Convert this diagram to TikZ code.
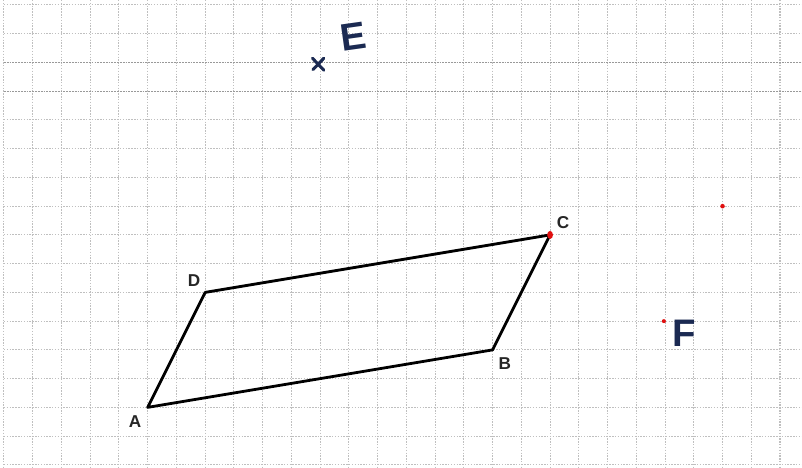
\documentclass[tikz,border=0pt]{standalone}
\usepackage{fontspec}
\setmainfont{Liberation Sans}
\usetikzlibrary{calc}
\definecolor{navy}{HTML}{1B2A52}
\definecolor{ptred}{HTML}{E01010}
\begin{document}
\begin{tikzpicture}[x=0.5cm,y=-0.5cm,
  gridline/.style={gray!50,line width=0.5pt,dash pattern=on 0.7pt off 0.7pt},
  gridthick/.style={gray!80,line width=0.55pt,dash pattern=on 0.9pt off 0.5pt},
  pgon/.style={black,line width=1.4pt,line join=round},
  vlabel/.style={font=\fontsize{8.5}{9}\selectfont\bfseries,text=black!85,inner sep=0pt},
  hand/.style={font=\fontsize{19}{20}\selectfont\bfseries,text=navy,inner sep=0pt},
  crossmark/.style={navy,line width=1.5pt,line cap=round}]
\useasboundingbox (-0.139,-0.174) rectangle (27.766,16.10);
% grid
\foreach \i in {0,...,27} \draw[gridline] (\i,-0.174) -- (\i,16.10);
\foreach \j in {0,...,16} \draw[gridline] (0,\j) -- (27.766,\j);
\foreach \j in {2,3} \draw[gridthick] (0,\j) -- (27.766,\j);
% points
\coordinate (A) at (5,14);
\coordinate (B) at (17,12);
\coordinate (C) at (19,8);
\coordinate (D) at (7,10);
\coordinate (E) at (10.93,2.05);
\coordinate (F) at (22.96,11.0);
\coordinate (G) at (25,7);
\draw[pgon] (A) -- (B) -- (C) -- (D) -- cycle;
\fill[ptred] (C) ellipse [x radius=0.1, y radius=0.14];
\fill[ptred] (F) circle (0.07);
\fill[ptred] (G) circle (0.08);
% cross at E
\draw[crossmark] ($(E)+(-0.2,-0.2)$) -- ($(E)+(0.2,0.22)$);
\draw[crossmark] ($(E)+(-0.18,0.2)$) -- ($(E)+(0.2,-0.2)$);
% labels
\node[vlabel] (lA) at (4.56,14.49) {A};
\node[vlabel] (lB) at (17.43,12.47) {B};
\node[vlabel] (lC) at (19.45,7.56) {C};
\node[vlabel] (lD) at (6.61,9.58) {D};
\node[hand,rotate=8] (lE) at (12.14,1.11) {E};
\node[hand] (lF) at (23.66,11.43) {F};
\end{tikzpicture}
\end{document}
